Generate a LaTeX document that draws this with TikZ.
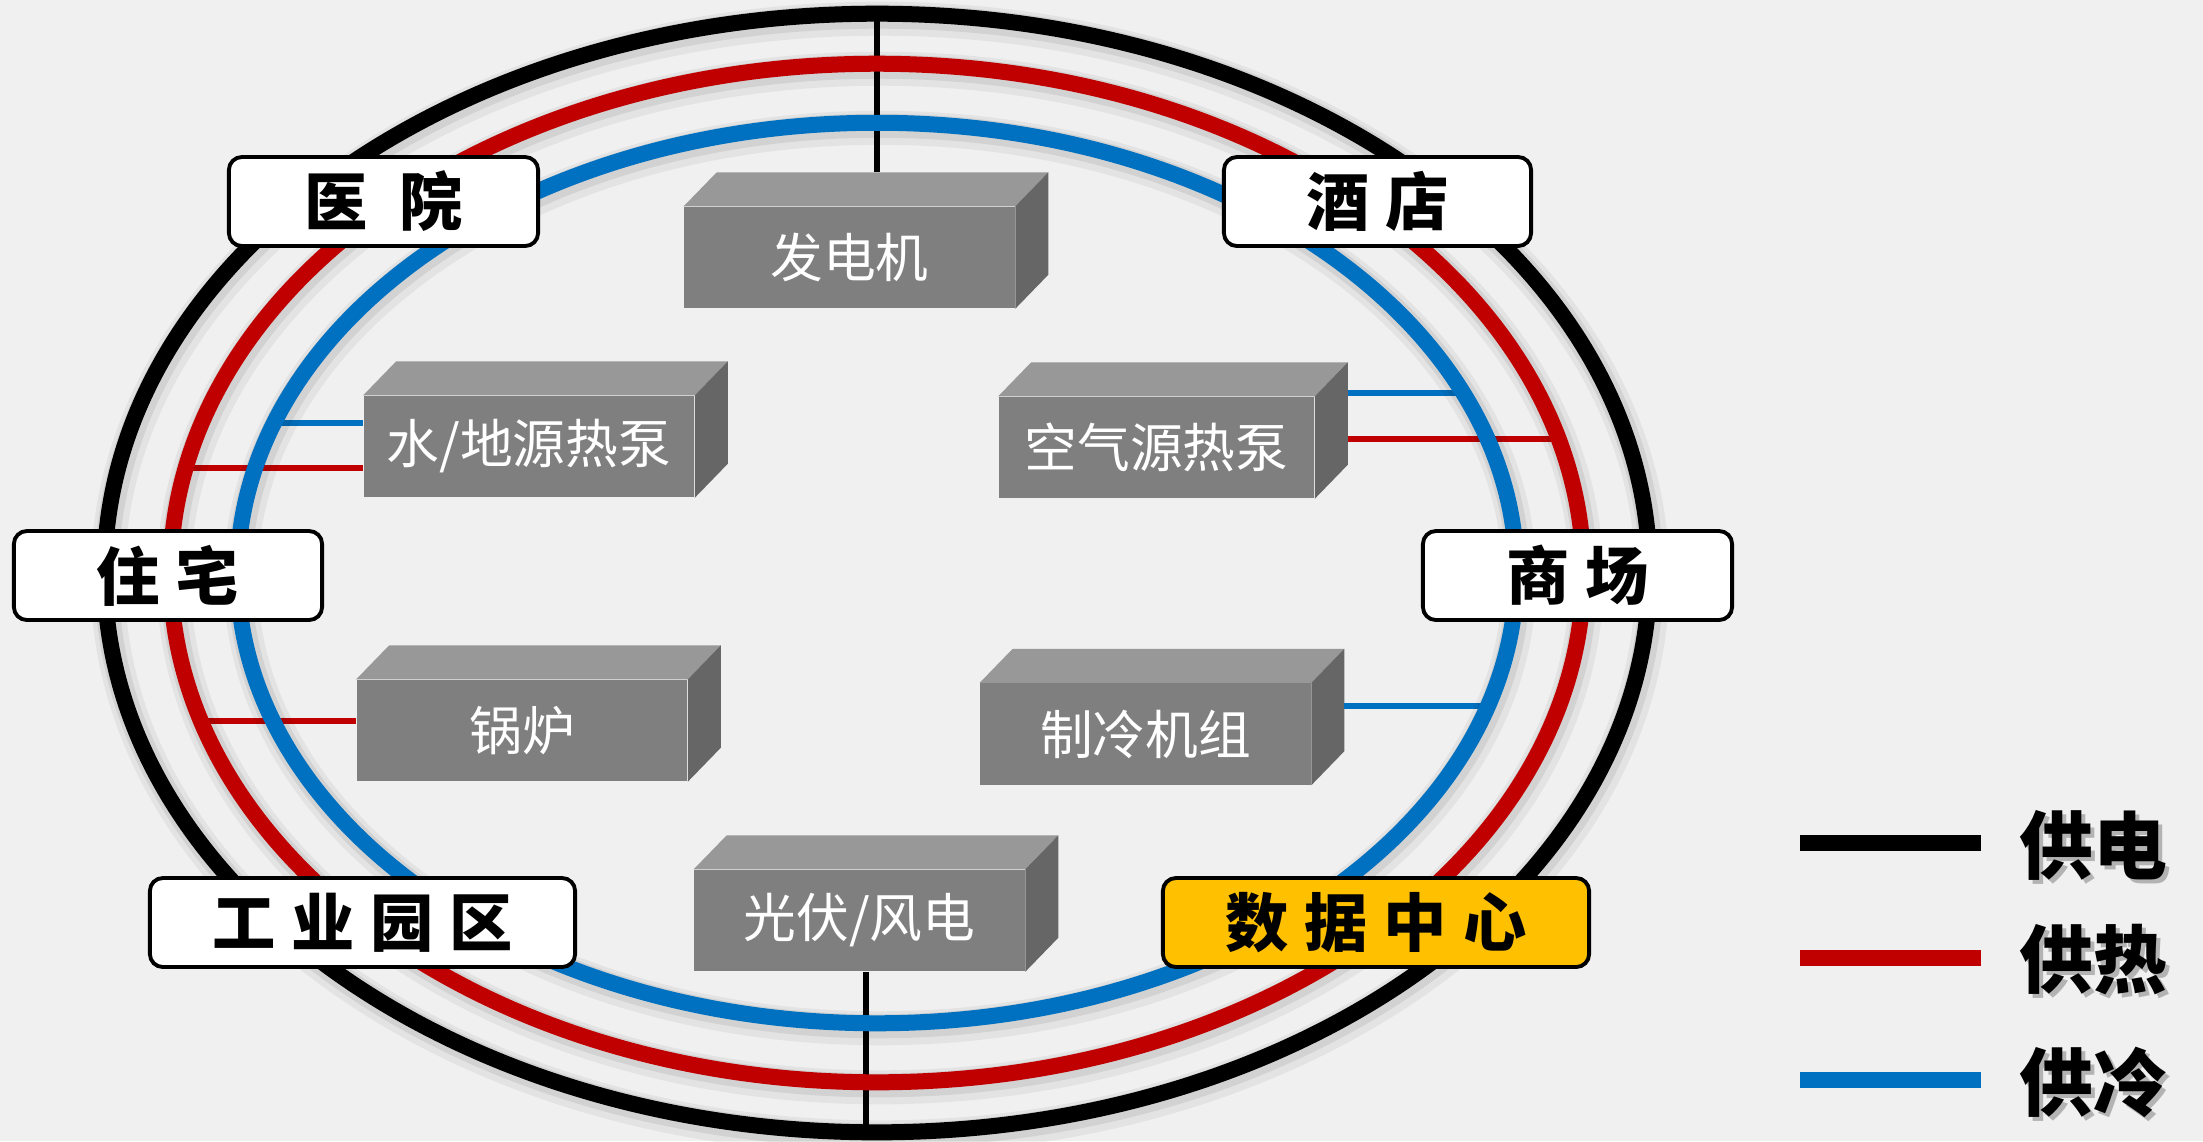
\documentclass[tikz,border=0pt]{standalone}
\usepackage{fontspec}
\usetikzlibrary{calc}
\newfontfamily\cjk{Noto Sans CJK SC}
\definecolor{bgcol}{HTML}{F0F0F0}
\definecolor{heatcol}{HTML}{C00000}
\definecolor{coolcol}{HTML}{0070C0}
\definecolor{goldcol}{HTML}{FFC000}
\definecolor{bfront}{HTML}{7F7F7F}
\definecolor{btop}{HTML}{989898}
\definecolor{bside}{HTML}{666666}
\tikzset{
 pipe/.style={line width=0.06cm},
 ringline/.style={line width=0.16cm},
 ringshadeA/.style={line width=0.34cm, draw=black, opacity=0.05},
 ringshadeB/.style={line width=0.24cm, draw=black, opacity=0.07},
 blockfront/.style={fill=bfront, minimum width=3.30cm, minimum height=1.01cm, inner sep=0pt, text=white, font=\cjk\fontsize{15pt}{18pt}\selectfont},
 sitebox/.style={draw=black, line width=1.1pt, fill=white, rounded corners=0.13cm, minimum height=0.89cm, inner sep=0pt, font=\cjk\bfseries\fontsize{18pt}{21pt}\selectfont},
 legline/.style={line width=0.16cm},
 legtext/.style={font=\cjk\bfseries\fontsize{21pt}{24pt}\selectfont, inner sep=0pt},
 legshadow/.style={legtext, text=black, opacity=0.25}
}
\newcommand\gblock[5][3.30cm]{%
 \node[blockfront, minimum width=#1] (#2) at (#3,#4) {#5};
 \fill[btop] (#2.north west) -- ++(33,-34) -- ($(#2.north east)+(33,-34)$) -- (#2.north east) -- cycle;
 \fill[bside] (#2.north east) -- ++(33,-34) -- ($(#2.south east)+(33,-34)$) -- (#2.south east) -- cycle;
 \coordinate (#2 tb) at ($(#2.north west)+(33,-34)$);
 \coordinate (#2 se) at ($(#2.north east)+(33,-34)$);
}
\begin{document}
\begin{tikzpicture}[x=0.01cm,y=-0.01cm]
\fill[bgcol] (0,0) rectangle (2203,1141);
\useasboundingbox (0,0) rectangle (2203,1141);
\coordinate (C) at (877,573);

% equipment blocks
\gblock{gen}{849.5}{257.5}{发电机}
\gblock{whp}{529}{446.5}{水/地源热泵}
\gblock[3.15cm]{ahp}{1156.5}{447.5}{空气源热泵}
\gblock{boil}{522}{730.5}{锅炉}
\gblock{chil}{1145.5}{734}{制冷机组}
\gblock{pv}{859.5}{920.5}{光伏/风电}

% connection points on rings
\coordinate (ptop) at (877,14);
\coordinate (pbot) at (866,1132);
\coordinate (w1) at (275,423);
\coordinate (w2) at (186,468);
\coordinate (a1) at (1463,393);
\coordinate (a2) at (1558,439);
\coordinate (b1) at (201,721);
\coordinate (c1) at (1487,706);

% connectors
\draw[pipe, black] (ptop) -- (ptop |- gen tb);
\draw[pipe, black] (pbot |- pv.south) -- (pbot);
\draw[pipe, coolcol] (w1) -- (w1 -| whp.west);
\draw[pipe, heatcol] (w2) -- (w2 -| whp.west);
\draw[pipe, coolcol] (a1) -- (a1 -| ahp se);
\draw[pipe, heatcol] (a2) -- (a2 -| ahp se);
\draw[pipe, heatcol] (b1) -- (b1 -| boil.west);
\draw[pipe, coolcol] (c1) -- (c1 -| chil se);

% rings with soft shadows
\foreach \rx/\ry/\col in {7.72/5.59/black, 7.06/5.09/heatcol, 6.39/4.50/coolcol}{
  \draw[ringshadeA] ($(C)+(3,5)$) ellipse [x radius=\rx cm, y radius=\ry cm];
  \draw[ringshadeB] ($(C)+(2,3)$) ellipse [x radius=\rx cm, y radius=\ry cm];
  \draw[ringline, draw=\col] (C) ellipse [x radius=\rx cm, y radius=\ry cm];
}

% consumers
\node[sitebox, minimum width=3.09cm] (hosp) at (383.5,201.5) {医\hspace{0.5em}院};
\node[sitebox, minimum width=3.07cm] (hotel) at (1377.5,201.5) {酒\hspace{0.25em}店};
\node[sitebox, minimum width=3.08cm] (home) at (168,575.5) {住\hspace{0.25em}宅};
\node[sitebox, minimum width=3.09cm] (mall) at (1577.5,575.5) {商\hspace{0.25em}场};
\node[sitebox, minimum width=4.25cm] (ind) at (362.5,922.5) {工\hspace{0.25em}业\hspace{0.25em}园\hspace{0.25em}区};
\node[sitebox, minimum width=4.26cm, fill=goldcol] (dc) at (1376,922.5) {数\hspace{0.25em}据\hspace{0.25em}中\hspace{0.25em}心};

% legend
\coordinate (l1s) at (1800,843); \coordinate (l1e) at (1981,843);
\coordinate (l2s) at (1800,958); \coordinate (l2e) at (1981,958);
\coordinate (l3s) at (1800,1080); \coordinate (l3e) at (1981,1080);
\draw[legline, black] (l1s) -- (l1e);
\draw[legline, heatcol] (l2s) -- (l2e);
\draw[legline, coolcol] (l3s) -- (l3e);
\node[legshadow] at (2097,849) {供电};
\node[legshadow] at (2097,964) {供热};
\node[legshadow] at (2097,1086) {供冷};
\node[legtext] (t1) at (2093,845) {供电};
\node[legtext] (t2) at (2093,960) {供热};
\node[legtext] (t3) at (2093,1082) {供冷};
\end{tikzpicture}
\end{document}
